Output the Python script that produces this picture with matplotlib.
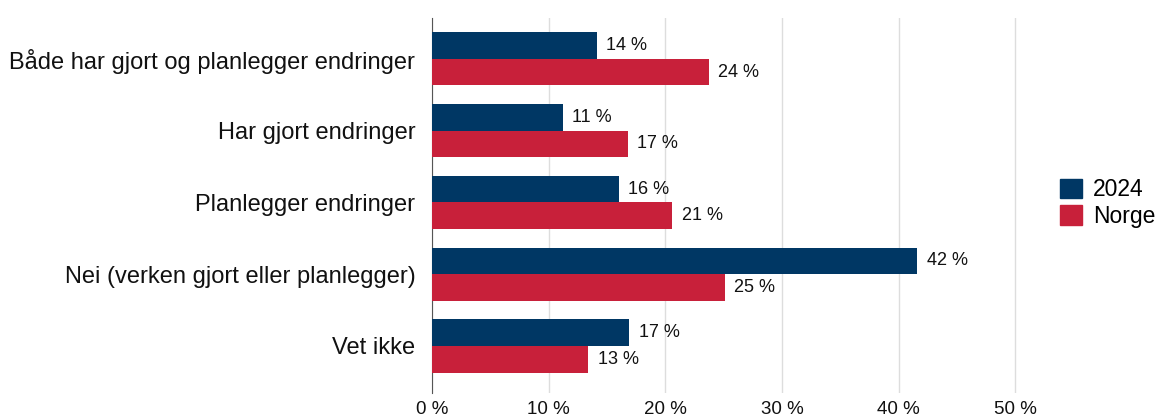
import numpy as np
import matplotlib
matplotlib.use("Agg")
import matplotlib.pyplot as plt
from matplotlib.patches import Patch

plt.rcParams['font.family'] = ['Liberation Sans', 'DejaVu Sans']

# data
CATEGORIES = ['Både har gjort og planlegger endringer', 'Har gjort endringer',
              'Planlegger endringer', 'Nei (verken gjort eller planlegger)', 'Vet ikke']
SERIES = ['2024', 'Norge']
VALUES_2024 = [14.1, 11.2, 16.0, 41.6, 16.9]
VALUES_NORGE = [23.7, 16.8, 20.6, 25.1, 13.4]
XTICKS = [0, 10, 20, 30, 40, 50]

C_BLUE = '#003764'
C_RED = '#C8203A'


def main():
    fig = plt.figure(figsize=(11.64, 4.17), dpi=100)
    ax = fig.add_axes([432 / 1164, 1 - 393 / 417, (1033 - 432) / 1164, (393 - 18) / 417])

    y = np.arange(len(CATEGORIES))
    h = 0.37
    ax.barh(y - h / 2, VALUES_2024, height=h, color=C_BLUE, zorder=3)
    ax.barh(y + h / 2, VALUES_NORGE, height=h, color=C_RED, zorder=3)

    # value labels
    for yi, v in zip(y, VALUES_2024):
        ax.text(v + 0.8, yi - h / 2, '{:.0f} %'.format(v), va='center', ha='left', fontsize=13, color='#111111')
    for yi, v in zip(y, VALUES_NORGE):
        ax.text(v + 0.8, yi + h / 2, '{:.0f} %'.format(v), va='center', ha='left', fontsize=13, color='#111111')

    ax.set_ylim(len(CATEGORIES) - 1 + 0.655, -0.57)
    ax.set_xlim(0, 51.5)
    ax.set_yticks(y)
    ax.set_yticklabels(CATEGORIES, fontsize=17)
    ax.set_xticks(XTICKS)
    ax.set_xticklabels(['{} %'.format(t) for t in XTICKS], fontsize=13.5)

    # grid and spines
    ax.xaxis.grid(True, color='#dddddd', linewidth=1)
    ax.set_axisbelow(True)
    for s in ['top', 'right', 'bottom']:
        ax.spines[s].set_visible(False)
    ax.spines['left'].set_color('#555555')
    ax.tick_params(axis='both', length=0, colors='#111111')
    ax.tick_params(axis='x', pad=6)
    ax.tick_params(axis='y', pad=12)

    handles = [Patch(color=C_BLUE), Patch(color=C_RED)]
    fig.legend(handles, SERIES, loc='center left', bbox_to_anchor=(1060 / 1164, 1 - 203 / 417),
               frameon=False, fontsize=16.5, handlelength=0.95, handleheight=0.95,
               handletextpad=0.5, labelspacing=0.15, borderpad=0, borderaxespad=0)

    fig.savefig('out.png', dpi=100)


if __name__ == "__main__":
    main()
